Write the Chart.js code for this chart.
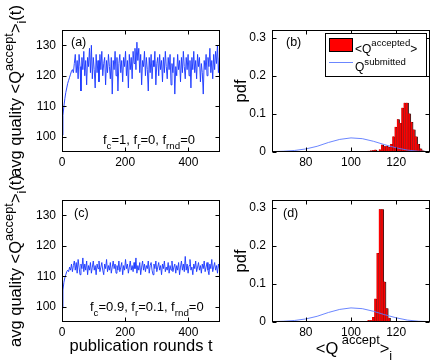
<!DOCTYPE html>
<html>
<head>
<meta charset="utf-8">
<script src="https://cdn.jsdelivr.net/npm/chart.js@4.4.1/dist/chart.umd.min.js"></script>
<style>
  html, body { margin: 0; padding: 0; background: #fff; overflow: hidden; }
  #wrap { position: relative; width: 436px; height: 362px; }
  canvas { position: absolute; left: 0; top: 0; }
</style>
</head>
<body>
<div id="wrap">
  <canvas id="chartA" width="436" height="362"></canvas>
  <canvas id="chartB" width="436" height="362"></canvas>
  <canvas id="chartC" width="436" height="362"></canvas>
  <canvas id="chartD" width="436" height="362"></canvas>
</div>
<script>
// avg quality of accepted papers, one value every 3 publication rounds
const roundStep = 3;
const qualityA = [
  100.5, 107, 110, 112.5, 114.5, 116, 117.5, 118.5, 119.5, 120.5,
  121.5, 122, 121, 124, 127, 121, 125, 119, 127, 123,
  115, 126, 122, 128, 120, 125, 117, 126, 123, 129,
  121, 130, 119, 126, 122, 116, 127, 121, 125, 118,
  127, 122, 128, 120, 124, 126, 117, 125, 121, 127,
  123, 119, 126, 114, 125, 122, 128, 120, 126, 115,
  124, 127, 121, 125, 118, 126, 123, 128, 120, 125,
  116, 127, 122, 126, 119, 128, 124, 129, 122, 131,
  125, 129, 121, 127, 117, 125, 123, 128, 120, 126,
  122, 115, 126, 121, 127, 119, 125, 123, 128, 117,
  124, 126, 120, 127, 122, 125, 118, 126, 121, 128,
  123, 119, 126, 122, 127, 117, 124, 121, 126, 114,
  123, 120, 127, 122, 125, 118, 126, 121, 128, 123,
  119, 126, 122, 127, 120, 125, 116, 126, 122, 128,
  121, 125, 119, 127, 123, 126, 118, 124, 121, 114,
  125, 122, 127, 120, 126, 123, 129, 121, 125, 119,
  127, 122, 128, 124, 130, 121, 126
];
const qualityC = [
  99.5, 105.5, 108, 109.5, 110.5, 111.5, 112, 111.5, 113, 112,
  114, 111.5, 113.5, 115, 112, 114.5, 111, 115.5, 113, 110.5,
  114, 112.5, 116, 111.5, 114, 112, 115, 110.5, 113.5, 112,
  114.5, 111, 113, 115, 112, 113.5, 110.5, 114, 112.5, 115,
  111.5, 113, 114.5, 112, 110.5, 114, 112.5, 115.5, 111.5, 113.5,
  112, 114.5, 111, 113, 115, 112.5, 114, 111, 113.5, 112,
  115, 111.5, 113, 114.5, 110.5, 113.5, 112, 115.5, 112.5, 114,
  111, 113, 115, 112, 113.5, 111.5, 114.5, 112.5, 116, 111,
  113.5, 112, 114.5, 110.5, 113, 115, 112, 114, 111.5, 113.5,
  112.5, 115, 111, 113.5, 114.5, 112, 110.5, 114, 112.5, 115,
  111.5, 113, 114.5, 112, 113.5, 110.5, 114, 112.5, 115, 111.5,
  113, 112, 114.5, 111, 113.5, 112, 115, 111.5, 113, 114,
  111, 113.5, 112, 114.5, 110.5, 113, 115, 112, 114, 111.5,
  116.5, 112, 114, 111, 113.5, 115.5, 112, 113, 110.5, 114,
  112.5, 115, 111.5, 113, 114.5, 112, 113.5, 111, 114, 112.5,
  115, 111.5, 113, 114.5, 112, 110.5, 114, 112.5, 115.5, 111.5,
  113, 114.5, 112, 113.5, 111, 114, 112.5
];

// histograms of <Q accepted> (bin width 1)
const binsB = [103, 104, 105, 106, 107, 108, 109, 110, 111, 112, 113, 114, 115, 116, 117,
               118, 119, 120, 121, 122, 123, 124, 125, 126, 127, 128, 129, 130, 131, 132];
const pdfB = [0.002, 0, 0, 0, 0, 0.002, 0.003, 0.004, 0.005, 0.002, 0.006, 0.018, 0.014, 0.015, 0.012,
              0.02, 0.04, 0.065, 0.085, 0.075, 0.115, 0.128, 0.128, 0.1, 0.078, 0.058, 0.04, 0.02, 0.008, 0.003];
const binsD = [107, 108, 109, 110, 111, 112, 113, 114, 115, 116, 117, 118];
const pdfD = [0.002, 0.004, 0.004, 0.012, 0.06, 0.18, 0.295, 0.295, 0.105, 0.035, 0.01, 0.002];

// pdf of submitted quality
const subQuality = [65, 70, 75, 80, 85, 90, 95, 100, 105, 110, 115, 120, 125, 130, 135];
const subPdf = [0.001, 0.002, 0.004, 0.008, 0.015, 0.025, 0.033, 0.037, 0.035, 0.028, 0.019, 0.011, 0.005, 0.002, 0.001];

const ticksT = [0, 200, 400];
const ticksQ = [100, 110, 120, 130];
const ticksHistX = [80, 100, 120];
const ticksPdf = [0, 0.1, 0.2, 0.3];


const PAGE_W = 436, PAGE_H = 362;
const FONT = '"Liberation Sans", Arial, Helvetica, sans-serif';
const lineBlue = 'rgb(25,55,255)';
const subBlue = 'rgb(90,120,255)';
const darkRed = 'rgb(140,40,40)';

function pts(xs, ys) {
  return xs.map((x, i) => ({ x: x, y: ys[i] }));
}
const rounds = qualityA.map((_, i) => i * roundStep);

// draws text with super/subscripts, e.g. <Q^accept>_i
function drawRich(ctx, t) {
  const size = t.size;
  const small = size * (t.small || 0.78);
  const up = size * (t.up || 0.5);
  const down = size * (t.down || 0.3);
  const widths = t.parts.map(p => {
    ctx.font = (p[1] === 'n' ? size : small) + 'px ' + FONT;
    return ctx.measureText(p[0]).width;
  });
  const total = widths.reduce((a, b) => a + b, 0);
  ctx.save();
  ctx.translate(t.x, t.y);
  if (t.angle) ctx.rotate(t.angle);
  ctx.fillStyle = '#000';
  ctx.textAlign = 'left';
  ctx.textBaseline = 'alphabetic';
  let cx = t.align === 'center' ? -total / 2 : 0;
  t.parts.forEach((p, i) => {
    ctx.font = (p[1] === 'n' ? size : small) + 'px ' + FONT;
    const dy = p[1] === 'sup' ? -up : p[1] === 'sub' ? down : 0;
    ctx.fillText(p[0], cx, dy);
    cx += widths[i];
  });
  ctx.restore();
}

// matlab style box, inward ticks, extra texts
const framePlugin = {
  id: 'frame',
  afterDraw(chart, args, opts) {
    const ctx = chart.ctx;
    const a = chart.chartArea;
    const L = Math.round(a.left) + 0.5, R = Math.round(a.right) - 0.5;
    const T = Math.round(a.top) + 0.5, B = Math.round(a.bottom) - 0.5;
    ctx.save();
    ctx.strokeStyle = '#000';
    ctx.lineWidth = 1;
    ctx.beginPath();
    chart.scales.x.ticks.forEach(tk => {
      const px = Math.round(chart.scales.x.getPixelForValue(tk.value)) + 0.5;
      ctx.moveTo(px, B); ctx.lineTo(px, B - 4);
      ctx.moveTo(px, T); ctx.lineTo(px, T + 4);
    });
    chart.scales.y.ticks.forEach(tk => {
      const py = Math.round(chart.scales.y.getPixelForValue(tk.value)) + 0.5;
      ctx.moveTo(L, py); ctx.lineTo(L + 4, py);
      ctx.moveTo(R, py); ctx.lineTo(R - 4, py);
    });
    ctx.stroke();
    ctx.strokeRect(L, T, R - L, B - T);

    if (opts.legend) {
      const lg = opts.legend;
      ctx.fillStyle = '#fff';
      ctx.fillRect(lg.x, lg.y, lg.w, lg.h);
      ctx.strokeRect(lg.x + 0.5, lg.y + 0.5, lg.w, lg.h);
      ctx.fillStyle = '#ff0000';
      ctx.fillRect(lg.x + 4, lg.y + 5, 24, 14);
      ctx.strokeRect(lg.x + 4.5, lg.y + 5.5, 23, 13);
      ctx.strokeStyle = subBlue;
      ctx.lineWidth = 0.9;
      ctx.beginPath();
      ctx.moveTo(lg.x + 4, lg.y + 29.5);
      ctx.lineTo(lg.x + 28, lg.y + 29.5);
      ctx.stroke();
    }
    ctx.restore();
    (opts.texts || []).forEach(t => drawRich(ctx, t));
  }
};

function fixTicks(values) {
  return s => { s.ticks = values.map(v => ({ value: v })); };
}

function panelOptions(area, xRange, yRange, xTicks, yTicks, frame) {
  const tickFont = { family: FONT, size: 12 };
  return {
    responsive: false,
    animation: false,
    events: [],
    layout: { padding: { left: 0, top: area.top, right: PAGE_W - area.right, bottom: 0 } },
    plugins: { legend: { display: false }, tooltip: { enabled: false }, frame: frame },
    scales: {
      x: {
        type: 'linear', min: xRange[0], max: xRange[1], offset: false,
        grid: { display: false, drawTicks: false }, border: { display: false },
        ticks: { padding: 3, color: '#000', font: tickFont, autoSkip: false, maxRotation: 0, callback: v => String(v) },
        afterBuildTicks: fixTicks(xTicks),
        afterFit: s => { s.height = PAGE_H - area.bottom; }
      },
      y: {
        type: 'linear', min: yRange[0], max: yRange[1],
        grid: { display: false, drawTicks: false }, border: { display: false },
        ticks: { padding: 6, color: '#000', font: tickFont, autoSkip: false, callback: v => String(v) },
        afterBuildTicks: fixTicks(yTicks),
        afterFit: s => { s.width = area.left; }
      }
    }
  };
}

const yTitle = [['avg quality <Q', 'n'], ['accept', 'sup'], ['>', 'n'], ['i', 'sub'], ['(t)', 'n']];

function timeSeries(id, values, area, texts) {
  return new Chart(document.getElementById(id), {
    type: 'line',
    data: {
      datasets: [{
        data: pts(rounds, values),
        borderColor: lineBlue, borderWidth: 0.9, pointRadius: 0, tension: 0, fill: false
      }]
    },
    options: panelOptions(area, [0, 500], [95, 135], ticksT, ticksQ, { texts: texts }),
    plugins: [framePlugin]
  });
}

function histogram(id, bins, pdf, area, frame) {
  return new Chart(document.getElementById(id), {
    type: 'bar',
    data: {
      datasets: [
        { type: 'line', data: pts(subQuality, subPdf), borderColor: subBlue, borderWidth: 0.9, pointRadius: 0, tension: 0, fill: false },
        { data: pts(bins.map(b => b - 0.3), pdf), backgroundColor: '#ff0000', borderWidth: 0, barThickness: 1, grouped: false },
        { data: pts(bins, pdf), backgroundColor: darkRed, borderColor: '#000', borderWidth: 0.5, barThickness: 2.3, grouped: false }
      ]
    },
    options: panelOptions(area, [65, 135], [0, 0.32], ticksHistX, ticksPdf, frame),
    plugins: [framePlugin]
  });
}

timeSeries('chartA', qualityA, { left: 62, top: 30, right: 220, bottom: 152 }, [
  { parts: yTitle, x: 21, y: 91, size: 16.5, angle: -Math.PI / 2, align: 'center' },
  { parts: [['(a)', 'n']], x: 71, y: 46, size: 12.5 },
  { parts: [['f', 'n'], ['c', 'sub'], ['=1, f', 'n'], ['r', 'sub'], ['=0, f', 'n'], ['rnd', 'sub'], ['=0', 'n']],
    x: 103, y: 144, size: 13, small: 0.75, down: 0.42 }
]);

timeSeries('chartC', qualityC, { left: 62, top: 200, right: 220, bottom: 322 }, [
  { parts: yTitle, x: 21, y: 261, size: 16.5, angle: -Math.PI / 2, align: 'center' },
  { parts: [['(c)', 'n']], x: 74, y: 217, size: 12.5 },
  { parts: [['f', 'n'], ['c', 'sub'], ['=0.9, f', 'n'], ['r', 'sub'], ['=0.1, f', 'n'], ['rnd', 'sub'], ['=0', 'n']],
    x: 90, y: 311, size: 13, small: 0.75, down: 0.42 },
  { parts: [['publication rounds t', 'n']], x: 141, y: 351, size: 16.5, align: 'center' }
]);

histogram('chartB', binsB, pdfB, { left: 272, top: 30, right: 430, bottom: 152 }, {
  legend: { x: 325, y: 33, w: 101, h: 43 },
  texts: [
    { parts: [['pdf', 'n']], x: 246, y: 91, size: 16.5, angle: -Math.PI / 2, align: 'center' },
    { parts: [['(b)', 'n']], x: 286, y: 46, size: 12.5 },
    { parts: [['<Q', 'n'], ['accepted', 'sup'], ['>', 'n']], x: 355, y: 53, size: 12, small: 0.8, up: 0.55 },
    { parts: [['Q', 'n'], ['submitted', 'sup']], x: 355, y: 71, size: 12, small: 0.8, up: 0.5 }
  ]
});

histogram('chartD', binsD, pdfD, { left: 272, top: 200, right: 430, bottom: 322 }, {
  texts: [
    { parts: [['pdf', 'n']], x: 246, y: 261, size: 16.5, angle: -Math.PI / 2, align: 'center' },
    { parts: [['(d)', 'n']], x: 283, y: 217, size: 12.5 },
    { parts: [['<Q', 'n'], [' accept', 'sup'], ['>', 'n'], ['i', 'sub']], x: 354, y: 354, size: 16.5, up: 0.62, down: 0.35, align: 'center' }
  ]
});
</script>
</body>
</html>
